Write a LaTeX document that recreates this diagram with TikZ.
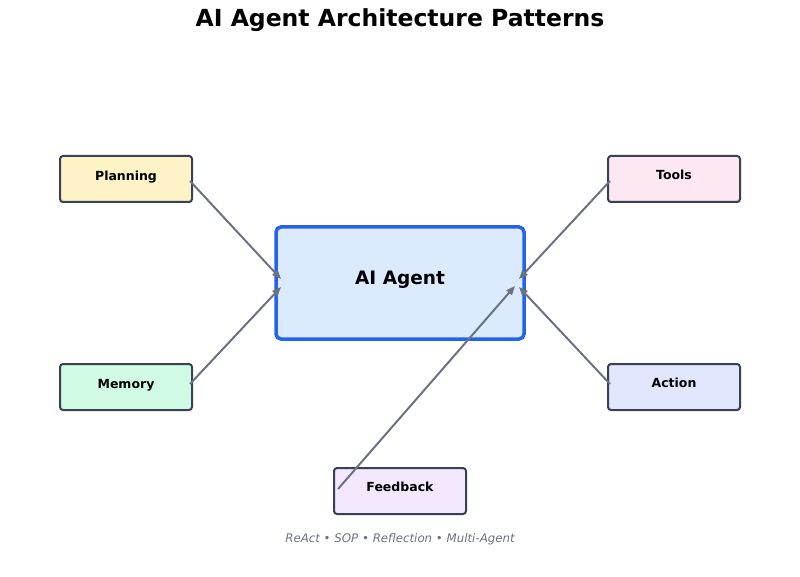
\documentclass[tikz,border=0pt]{standalone}
\usepackage{fontspec}
\setmainfont{DejaVu Sans}
\usetikzlibrary{arrows.meta}
\definecolor{edgegray}{HTML}{6B7280}
\definecolor{boxborder}{HTML}{374151}
\definecolor{planfill}{HTML}{FEF3C7}
\definecolor{toolfill}{HTML}{FCE7F3}
\definecolor{memfill}{HTML}{D1FAE5}
\definecolor{actfill}{HTML}{E0E7FF}
\definecolor{fbfill}{HTML}{F3E8FF}
\definecolor{agentfill}{HTML}{DBEAFE}
\definecolor{agentborder}{HTML}{2563EB}
\tikzset{
  x=1pt, y=-1pt,
  smallbox/.style={draw=boxborder, line width=2pt, rounded corners=3pt,
    minimum width=132pt, minimum height=46pt, inner sep=0pt},
  agentbox/.style={draw=agentborder, fill=agentfill, line width=3.5pt, rounded corners=5pt,
    minimum width=248pt, minimum height=112pt, inner sep=0pt},
  boxlabel/.style={font=\fontsize{12.5}{14}\selectfont\bfseries, inner sep=0pt},
  conn/.style={draw=edgegray, line width=2pt, -{Triangle[length=9pt,width=7pt]}},
}
\begin{document}
\begin{tikzpicture}
\useasboundingbox (0,0) rectangle (800,577);
\node[font=\fontsize{23.5}{26}\selectfont\bfseries, inner sep=0pt] (title) at (400,20) {AI Agent Architecture Patterns};

\node[agentbox] (agent) at (400,283) {};
\node[font=\fontsize{18.5}{21}\selectfont\bfseries, inner sep=0pt] (agentlbl) at (400,280) {AI Agent};

\node[smallbox, fill=planfill] (plan) at (126,179) {};
\node[boxlabel] (planlbl) at (126,177) {Planning};
\node[smallbox, fill=toolfill] (tools) at (674,179) {};
\node[boxlabel] (toolslbl) at (674,175) {Tools};
\node[smallbox, fill=memfill] (mem) at (126,387) {};
\node[boxlabel] (memlbl) at (126,385) {Memory};
\node[smallbox, fill=actfill] (act) at (674,387) {};
\node[boxlabel] (actlbl) at (674,383) {Action};
\node[smallbox, fill=fbfill] (fb) at (400,491) {};
\node[boxlabel] (fblbl) at (400,487) {Feedback};

\coordinate (planout) at (190,181);
\coordinate (memout) at (190,384);
\coordinate (toolsout) at (610,181);
\coordinate (actout) at (610,384);
\coordinate (fbout) at (338,489);
\coordinate (inL1) at (281,279);
\coordinate (inL2) at (281,287);
\coordinate (inR1) at (519,279);
\coordinate (inR2) at (519,287);
\coordinate (inFb) at (515,286);

\draw[conn] (planout) -- (inL1);
\draw[conn] (memout) -- (inL2);
\draw[conn] (toolsout) -- (inR1);
\draw[conn] (actout) -- (inR2);
\draw[conn] (fbout) -- (inFb);

\node[font=\fontsize{11.8}{14}\selectfont\itshape, text=edgegray, inner sep=0pt] (caption) at (400,539) {ReAct • SOP • Reflection • Multi-Agent};
\end{tikzpicture}
\end{document}
